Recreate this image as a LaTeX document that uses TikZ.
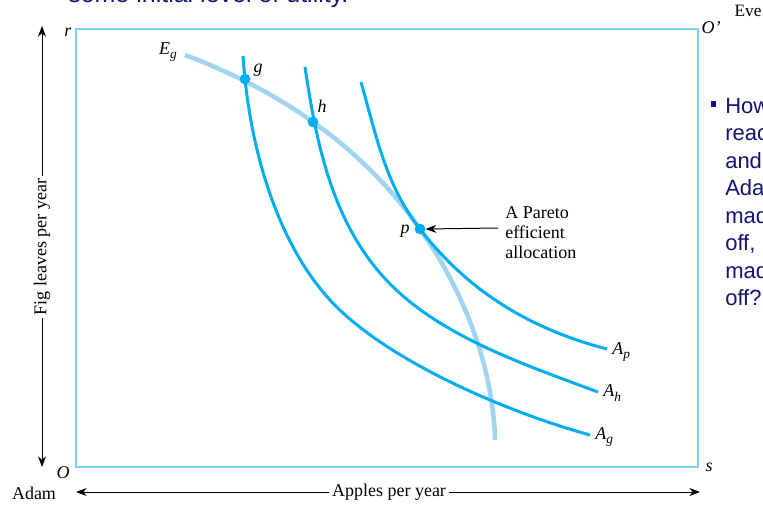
\documentclass[tikz,border=0pt]{standalone}
\usepackage{fontspec}
\setmainfont{Liberation Serif}
\newfontfamily\slidefont{Liberation Sans}
\usetikzlibrary{arrows.meta}
\definecolor{curvecyan}{RGB}{0,174,239}
\definecolor{effblue}{RGB}{160,212,240}
\definecolor{boxcyan}{RGB}{125,208,242}
\definecolor{navy}{RGB}{20,20,115}
\newcommand{\sublab}[2]{#1\raisebox{-0.5ex}{\fontsize{10}{10}\selectfont #2}}
\begin{document}
\begin{tikzpicture}[x=0.75pt,y=-0.75pt,
 lbl/.style={font=\fontsize{13.5}{15}\selectfont, inner sep=0pt},
 ilbl/.style={font=\fontsize{13.5}{15}\selectfont\itshape, inner sep=0pt},
 indiff/.style={draw=curvecyan, line width=2.25pt},
 edgeworth/.style={draw=effblue, line width=3.4pt},
 dotnode/.style={circle, fill=curvecyan, inner sep=0pt, minimum size=8pt},
 axisarrow/.style={-{Stealth[length=8pt,width=6pt]}, line width=0.75pt},
 slide/.style={font=\slidefont\fontsize{16.5}{20}\selectfont, text=navy, inner sep=0pt}
]
\useasboundingbox (0,0) rectangle (763,504);
\clip (0,0) rectangle (763,504);
\fill[white] (0,0) rectangle (763,504);

% box
\draw[boxcyan, line width=1.1pt] (76,29) rectangle (698,467);

% contract curve
\draw[edgeworth] (185,55) .. controls (279,90) and (363,147) .. (420,229)
                 .. controls (463,290) and (493,365) .. (495,440);

% indifference curves
\draw[indiff] (243,56) .. controls (249,146) and (276,241) .. (330,300)
              .. controls (384,359) and (503,411) .. (590,435);
\draw[indiff] (305,67) .. controls (316,141) and (331,216) .. (380,273)
              .. controls (432,334) and (523,364) .. (598,392);
\draw[indiff] (361,82) .. controls (376,135) and (386,186) .. (420,229)
              .. controls (470,294) and (534,330) .. (607,349);

% dots
\node[dotnode] (g) at (245,79) {};
\node[dotnode] (h) at (313,122) {};
\node[dotnode] (p) at (420,229) {};

% labels
\node[ilbl] (glbl) at (258,70) {g};
\node[ilbl] (hlbl) at (322,106) {h};
\node[ilbl] (plbl) at (405,231) {p};
\node[ilbl] (eglbl) at (168,52) {\sublab{E}{g}};
\node[ilbl, anchor=west] (aplbl) at (612,352) {\sublab{A}{p}};
\node[ilbl, anchor=west] (ahlbl) at (603,393) {\sublab{A}{h}};
\node[ilbl, anchor=west] (aglbl) at (595,437) {\sublab{A}{g}};

\node[ilbl] (rlbl) at (68,32) {r};
\node[ilbl] (oplbl) at (711,28) {O'};
\node[lbl, font=\fontsize{13}{13}\selectfont] (eve) at (748,11) {Eve};
\node[ilbl] (olbl) at (63,473) {O};
\node[ilbl] (slbl) at (709,467) {s};
\node[lbl] (adam) at (34,493) {Adam};

% Pareto annotation
\node[lbl, align=left, anchor=west] (pareto) at (505,233) {A Pareto\\efficient\\allocation};
\coordinate (arrstart) at (498,228);
\draw[axisarrow] (arrstart) -- (p.east);

% axes
\coordinate (vtop) at (42,26);
\coordinate (vbot) at (42,467);
\node[lbl, rotate=90, inner sep=2pt] (vlab) at (42,247) {Fig leaves per year};
\draw[axisarrow] (vlab.east) -- (vtop);
\draw[axisarrow] (vlab.west) -- (vbot);

\coordinate (hleft) at (76,492);
\coordinate (hright) at (700,492);
\node[lbl, inner sep=2pt] (hlab) at (389,492) {Apples per year};
\draw[axisarrow] (hlab.west) -- (hleft);
\draw[axisarrow] (hlab.east) -- (hright);

% slide text (clipped)
\node[slide, font=\slidefont\fontsize{18.75}{20}\selectfont, anchor=base west] (toptext) at (68,2) {some initial level of utility.};
\fill[navy] (711,101) rectangle (716,107);
\foreach \t/\yy [count=\i] in {How/113, reach/140.5, and/168, Adam/195.5, made/223, {off,}/250.5, made/278, {off?}/305.5}
  \node[slide, anchor=base west] (sl\i) at (725,\yy) {\t};
\end{tikzpicture}
\end{document}
